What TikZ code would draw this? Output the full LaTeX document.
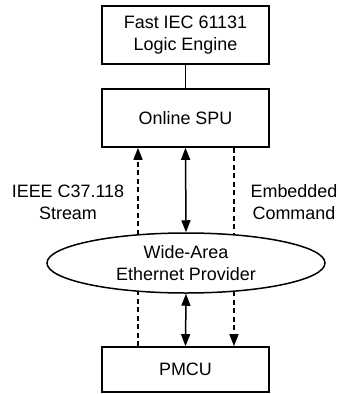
\documentclass[tikz,border=0pt]{standalone}
\usepackage{fontspec}
\setmainfont{Liberation Sans}
\usetikzlibrary{arrows.meta,shapes.geometric}
\begin{document}
\begin{tikzpicture}[x=1bp,y=-1bp,
  txt/.style={align=center, font=\fontsize{18}{22}\selectfont, inner sep=0pt},
  box/.style={txt, draw, line width=1.6bp, minimum width=167bp},
  cloud/.style={txt, draw, ellipse, line width=1.5bp, minimum width=278bp, minimum height=60bp},
  link/.style={line width=1.5bp},
  dlink/.style={line width=1.5bp, dash pattern=on 5bp off 3.5bp},
  tip/.style={-{Triangle[width=9bp,length=12bp]}},
  tips/.style={{Triangle[width=9bp,length=12bp]}-{Triangle[width=9bp,length=12bp]}}]
\useasboundingbox (0,0) rectangle (340,394);
\node[box, minimum height=58bp] (fast) at (185.5,35) {Fast IEC 61131\\Logic Engine};
\node[box, minimum height=58bp] (spu) at (185.5,118) {Online SPU};
\node[cloud] (wan) at (186,263) {Wide-Area\\Ethernet Provider};
\node[box, minimum height=45bp] (pmcu) at (185.5,369.5) {PMCU};
\node[txt] (lab1) at (68,202) {IEEE C37.118\\Stream};
\node[txt] (lab2) at (294,202) {Embedded\\Command};
\coordinate (lt) at (138,234.8);
\coordinate (lb) at (138,291.2);
\coordinate (rt) at (234,234.8);
\coordinate (rb) at (234,291.2);
\draw[link] (fast.south) -- (spu.north);
\draw[link,tips] (spu.south) -- (wan.north);
\draw[link,tips] (wan.south) -- (pmcu.north);
\draw[dlink,tip] (lt) -- (spu.south -| lt);
\draw[dlink] (pmcu.north -| lb) -- (lb);
\draw[dlink] (spu.south -| rt) -- (rt);
\draw[dlink,tip] (rb) -- (pmcu.north -| rb);
\end{tikzpicture}
\end{document}
